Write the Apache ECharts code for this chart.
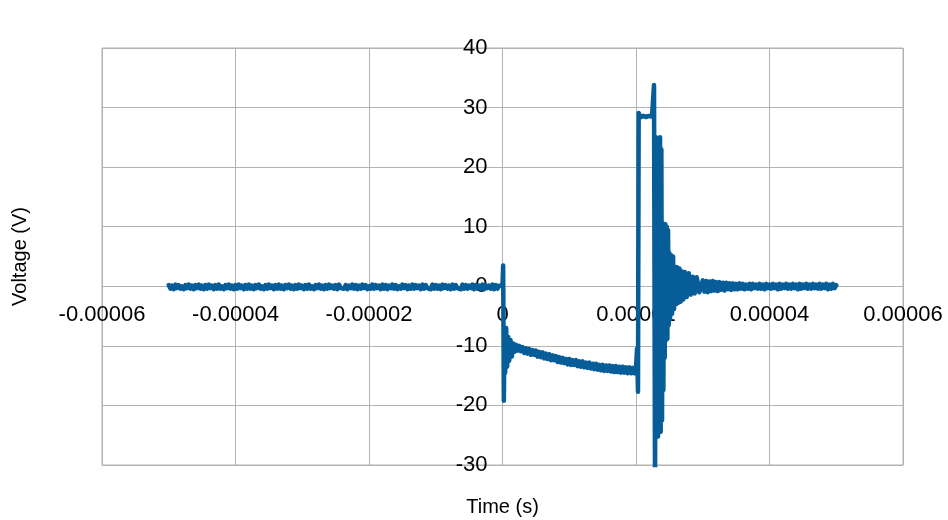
<!DOCTYPE html>
<html>
<head>
<meta charset="utf-8">
<script src="https://cdn.jsdelivr.net/npm/echarts@6/dist/echarts.min.js"></script>
<style>
  html, body { margin: 0; padding: 0; background: #fff; }
  #main { width: 948px; height: 520px; }
</style>
</head>
<body>
<div id="main"></div>
<script>
// Tick labels on the time axis (axis runs in microseconds internally)
const xTickLabels = ['-0.00006', '-0.00004', '-0.00002', '0', '0.00002', '0.00004', '0.00006'];

// Pre-trigger baseline: one sample every 0.25 us from -50 us
const preStart = -50;
const preStep = 0.25;
const preVolts = [
  0.2, -0.4, 0.1, -0.5, 0.3, -0.3, 0.2, -0.4, 0.0, -0.5,
  0.2, -0.3, 0.3, -0.4, 0.1, -0.5, 0.2, -0.3, 0.3, -0.4,
  0.1, -0.5, 0.2, -0.4, 0.3, -0.3, 0.1, -0.5, 0.2, -0.4,
  0.3, -0.4, 0.0, -0.5, 0.2, -0.3, 0.3, -0.4, 0.1, -0.5,
  0.2, -0.4, 0.3, -0.3, 0.1, -0.5, 0.2, -0.4, 0.3, -0.4,
  0.1, -0.5, 0.2, -0.3, 0.3, -0.4, 0.0, -0.5, 0.2, -0.4,
  0.3, -0.3, 0.1, -0.5, 0.2, -0.4, 0.3, -0.4, 0.1, -0.5,
  0.2, -0.3, 0.3, -0.4, 0.1, -0.5, 0.2, -0.4, 0.3, -0.3,
  0.1, -0.5, 0.2, -0.4, 0.3, -0.4, 0.0, -0.5, 0.2, -0.3,
  0.3, -0.4, 0.1, -0.5, 0.2, -0.4, 0.3, -0.3, 0.1, -0.4,
  0.2, -0.5, 0.3, -0.3, 0.0, -0.4, 0.2, -0.5, 0.1, -0.3,
  0.3, -0.4, 0.2, -0.5, 0.1, -0.4, 0.3, -0.3, 0.2, -0.5,
  0.0, -0.4, 0.3, -0.4, 0.2, -0.3, 0.1, -0.5, 0.3, -0.4,
  0.2, -0.5, 0.1, -0.3, 0.3, -0.4, 0.2, -0.5, 0.0, -0.4,
  0.3, -0.3, 0.2, -0.5, 0.1, -0.4, 0.3, -0.4, 0.2, -0.3,
  0.1, -0.5, 0.3, -0.4, 0.2, -0.3, 0.0, -0.5, 0.3, -0.4,
  0.2, -0.4, 0.1, -0.5, 0.3, -0.3, 0.2, -0.4, 0.1, -0.5,
  0.3, -0.4, 0.2, -0.3, 0.0, -0.5, 0.3, -0.4, 0.2, -0.4,
  0.1, -0.3, 0.3, -0.5, 0.2, -0.4, 0.1, -0.4, 0.3, -0.5,
  0.2, -0.3, 0.1, -0.4, 0.3, -0.5, 0.2, -0.4, 0.1, 0.1
];

// Trigger edge at t = 0 (time in us, voltage in V)
const triggerTimes = [0.0, 0.1, 0.2, 0.3, 0.4, 0.55, 0.7, 0.85, 1.0, 1.2, 1.4, 1.6, 1.8];
const triggerVolts = [0.1, 3.5, -19.2, -8.0, -14.5, -7.0, -13.5, -8.5, -12.5, -9.0, -11.8, -9.6, -11.0];

// Negative plateau slowly sagging: one sample every 0.25 us from 2 us to 20 us
const sagStart = 2;
const sagStep = 0.25;
const sagVolts = [
  -9.8, -10.8, -10.0, -10.9, -10.2, -11.2, -10.4, -11.3, -10.5, -11.5,
  -10.7, -11.5, -10.8, -11.8, -11.0, -11.9, -11.1, -12.1, -11.3, -12.2,
  -11.4, -12.4, -11.6, -12.4, -11.7, -12.7, -11.9, -12.8, -12.0, -12.9,
  -12.2, -13.1, -12.2, -13.2, -12.4, -13.2, -12.4, -13.4, -12.6, -13.5,
  -12.6, -13.6, -12.8, -13.7, -12.8, -13.8, -13.0, -13.9, -13.0, -14.0,
  -13.2, -14.1, -13.2, -14.2, -13.3, -14.2, -13.3, -14.3, -13.4, -14.4,
  -13.4, -14.4, -13.5, -14.5, -13.5, -14.5, -13.6, -14.6, -13.6, -14.6,
  -13.7, -14.6, -13.8
];

// Switching event and ringing (time in us, voltage in V)
const switchTimes = [
  20.15, 20.3, 20.4, 20.7, 21.1, 21.5, 21.9, 22.4, 22.7, 22.85,
  23.0, 23.1, 23.2, 23.3, 23.4, 23.5, 23.6, 23.7, 23.8, 23.9,
  24.0, 24.1, 24.2, 24.3, 24.4, 24.5, 24.6, 24.7, 24.8, 24.9,
  25.0, 25.1, 25.25, 25.4, 25.55, 25.7, 25.85, 26.0, 26.15, 26.3,
  26.5, 26.7, 26.9, 27.1, 27.3, 27.6, 27.9, 28.2, 28.5, 28.8,
  29.1, 29.5
];
const switchVolts = [
  -10.5, -17.7, 29.1, 28.4, 28.6, 28.4, 28.6, 28.5, 33.8, -34.0,
  25.0, -24.6, 24.8, -25.2, 24.2, -24.0, 25.0, -24.4, 23.0, -22.5,
  10.6, -17.4, 10.2, -12.0, 10.4, -9.0, 10.0, -8.8, 9.4, -6.5,
  5.6, -5.5, 5.2, -4.6, 5.0, -3.8, 3.3, -3.0, 3.2, -2.8,
  3.0, -2.6, 2.5, -2.2, 2.4, -1.8, 2.2, -1.4, 1.6, -1.2,
  1.5, -1.0
];

// Settled tail: one sample every 0.25 us from 30 us to 50 us
const tailStart = 30;
const tailStep = 0.25;
const tailVolts = [
  1.0, -0.9, 0.9, -1.0, 0.8, -0.8, 0.9, -0.7, 0.7, -0.8,
  0.7, -0.6, 0.6, -0.7, 0.6, -0.5, 0.5, -0.6, 0.5, -0.5,
  0.4, -0.5, 0.5, -0.4, 0.4, -0.5, 0.3, -0.4, 0.4, -0.5,
  0.4, -0.3, 0.3, -0.4, 0.4, -0.4, 0.3, -0.5, 0.4, -0.3,
  0.3, -0.4, 0.4, -0.3, 0.3, -0.5, 0.4, -0.4, 0.3, -0.3,
  0.4, -0.4, 0.3, -0.4, 0.4, -0.3, 0.3, -0.5, 0.4, -0.4,
  0.3, -0.3, 0.4, -0.4, 0.3, -0.4, 0.4, -0.3, 0.3, -0.4,
  0.4, -0.4, 0.3, -0.3, 0.4, -0.5, 0.3, -0.4, 0.4, -0.3,
  0.2
];

function pushSampled(data, start, step, volts) {
  volts.forEach(function (v, i) {
    data.push([start + i * step, v]);
  });
}

function pushPaired(data, times, volts) {
  times.forEach(function (t, i) {
    data.push([t, volts[i]]);
  });
}

function buildTrace() {
  var data = [];
  pushSampled(data, preStart, preStep, preVolts);
  pushPaired(data, triggerTimes, triggerVolts);
  pushSampled(data, sagStart, sagStep, sagVolts);
  pushPaired(data, switchTimes, switchVolts);
  pushSampled(data, tailStart, tailStep, tailVolts);
  return data;
}

var chartDom = document.getElementById('main');
var myChart = echarts.init(chartDom, null, { renderer: 'canvas' });

var gridGray = '#b3b3b3';
var font = "'Liberation Sans', Arial, sans-serif";

var option = {
  animation: false,
  grid: {
    left: 102,
    right: 45,
    top: 48,
    bottom: 55,
    containLabel: false,
    outerBoundsMode: 'none',
    show: true,
    borderColor: gridGray,
    borderWidth: 1,
    backgroundColor: '#fff'
  },
  xAxis: {
    type: 'value',
    min: -60,
    max: 60,
    interval: 20,
    name: 'Time (s)',
    nameLocation: 'middle',
    nameGap: 211,
    nameMoveOverlap: false,
    nameTextStyle: { color: '#000', fontSize: 20, fontFamily: font },
    axisLine: { onZero: false, lineStyle: { color: gridGray, width: 1 } },
    axisTick: { show: true, length: 4, lineStyle: { color: gridGray } },
    axisLabel: {
      color: '#000',
      fontSize: 22,
      fontFamily: font,
      margin: 18,
      hideOverlap: false,
      formatter: function (value) {
        return xTickLabels[Math.round((value + 60) / 20)];
      }
    },
    splitLine: { show: true, lineStyle: { color: gridGray, width: 1 } }
  },
  yAxis: {
    type: 'value',
    min: -30,
    max: 40,
    interval: 10,
    name: 'Voltage (V)',
    nameLocation: 'middle',
    nameGap: 472,
    nameMoveOverlap: false,
    nameTextStyle: { color: '#000', fontSize: 20, fontFamily: font },
    axisLine: { onZero: false, lineStyle: { color: gridGray, width: 1 } },
    axisTick: { show: true, length: 4, lineStyle: { color: gridGray } },
    axisLabel: { color: '#000', fontSize: 22, fontFamily: font, margin: 15 },
    splitLine: { show: true, lineStyle: { color: gridGray, width: 1 } }
  },
  series: [
    {
      name: 'Voltage',
      type: 'line',
      data: buildTrace(),
      showSymbol: false,
      symbol: 'none',
      sampling: null,
      clip: true,
      lineStyle: { color: '#075d98', width: 4.5, cap: 'round', join: 'round' }
    }
  ]
};

myChart.setOption(option);

// move both axes onto the zero lines of each other (onZero does not kick in here)
var zero = myChart.convertToPixel({ gridIndex: 0 }, [0, 0]);
var corner = myChart.convertToPixel({ gridIndex: 0 }, [-60, -30]);
myChart.setOption({
  xAxis: { offset: -(corner[1] - zero[1]) },
  yAxis: { offset: -(zero[0] - corner[0]) }
});

window.addEventListener('resize', function () {
  myChart.resize();
});
</script>
</body>
</html>
